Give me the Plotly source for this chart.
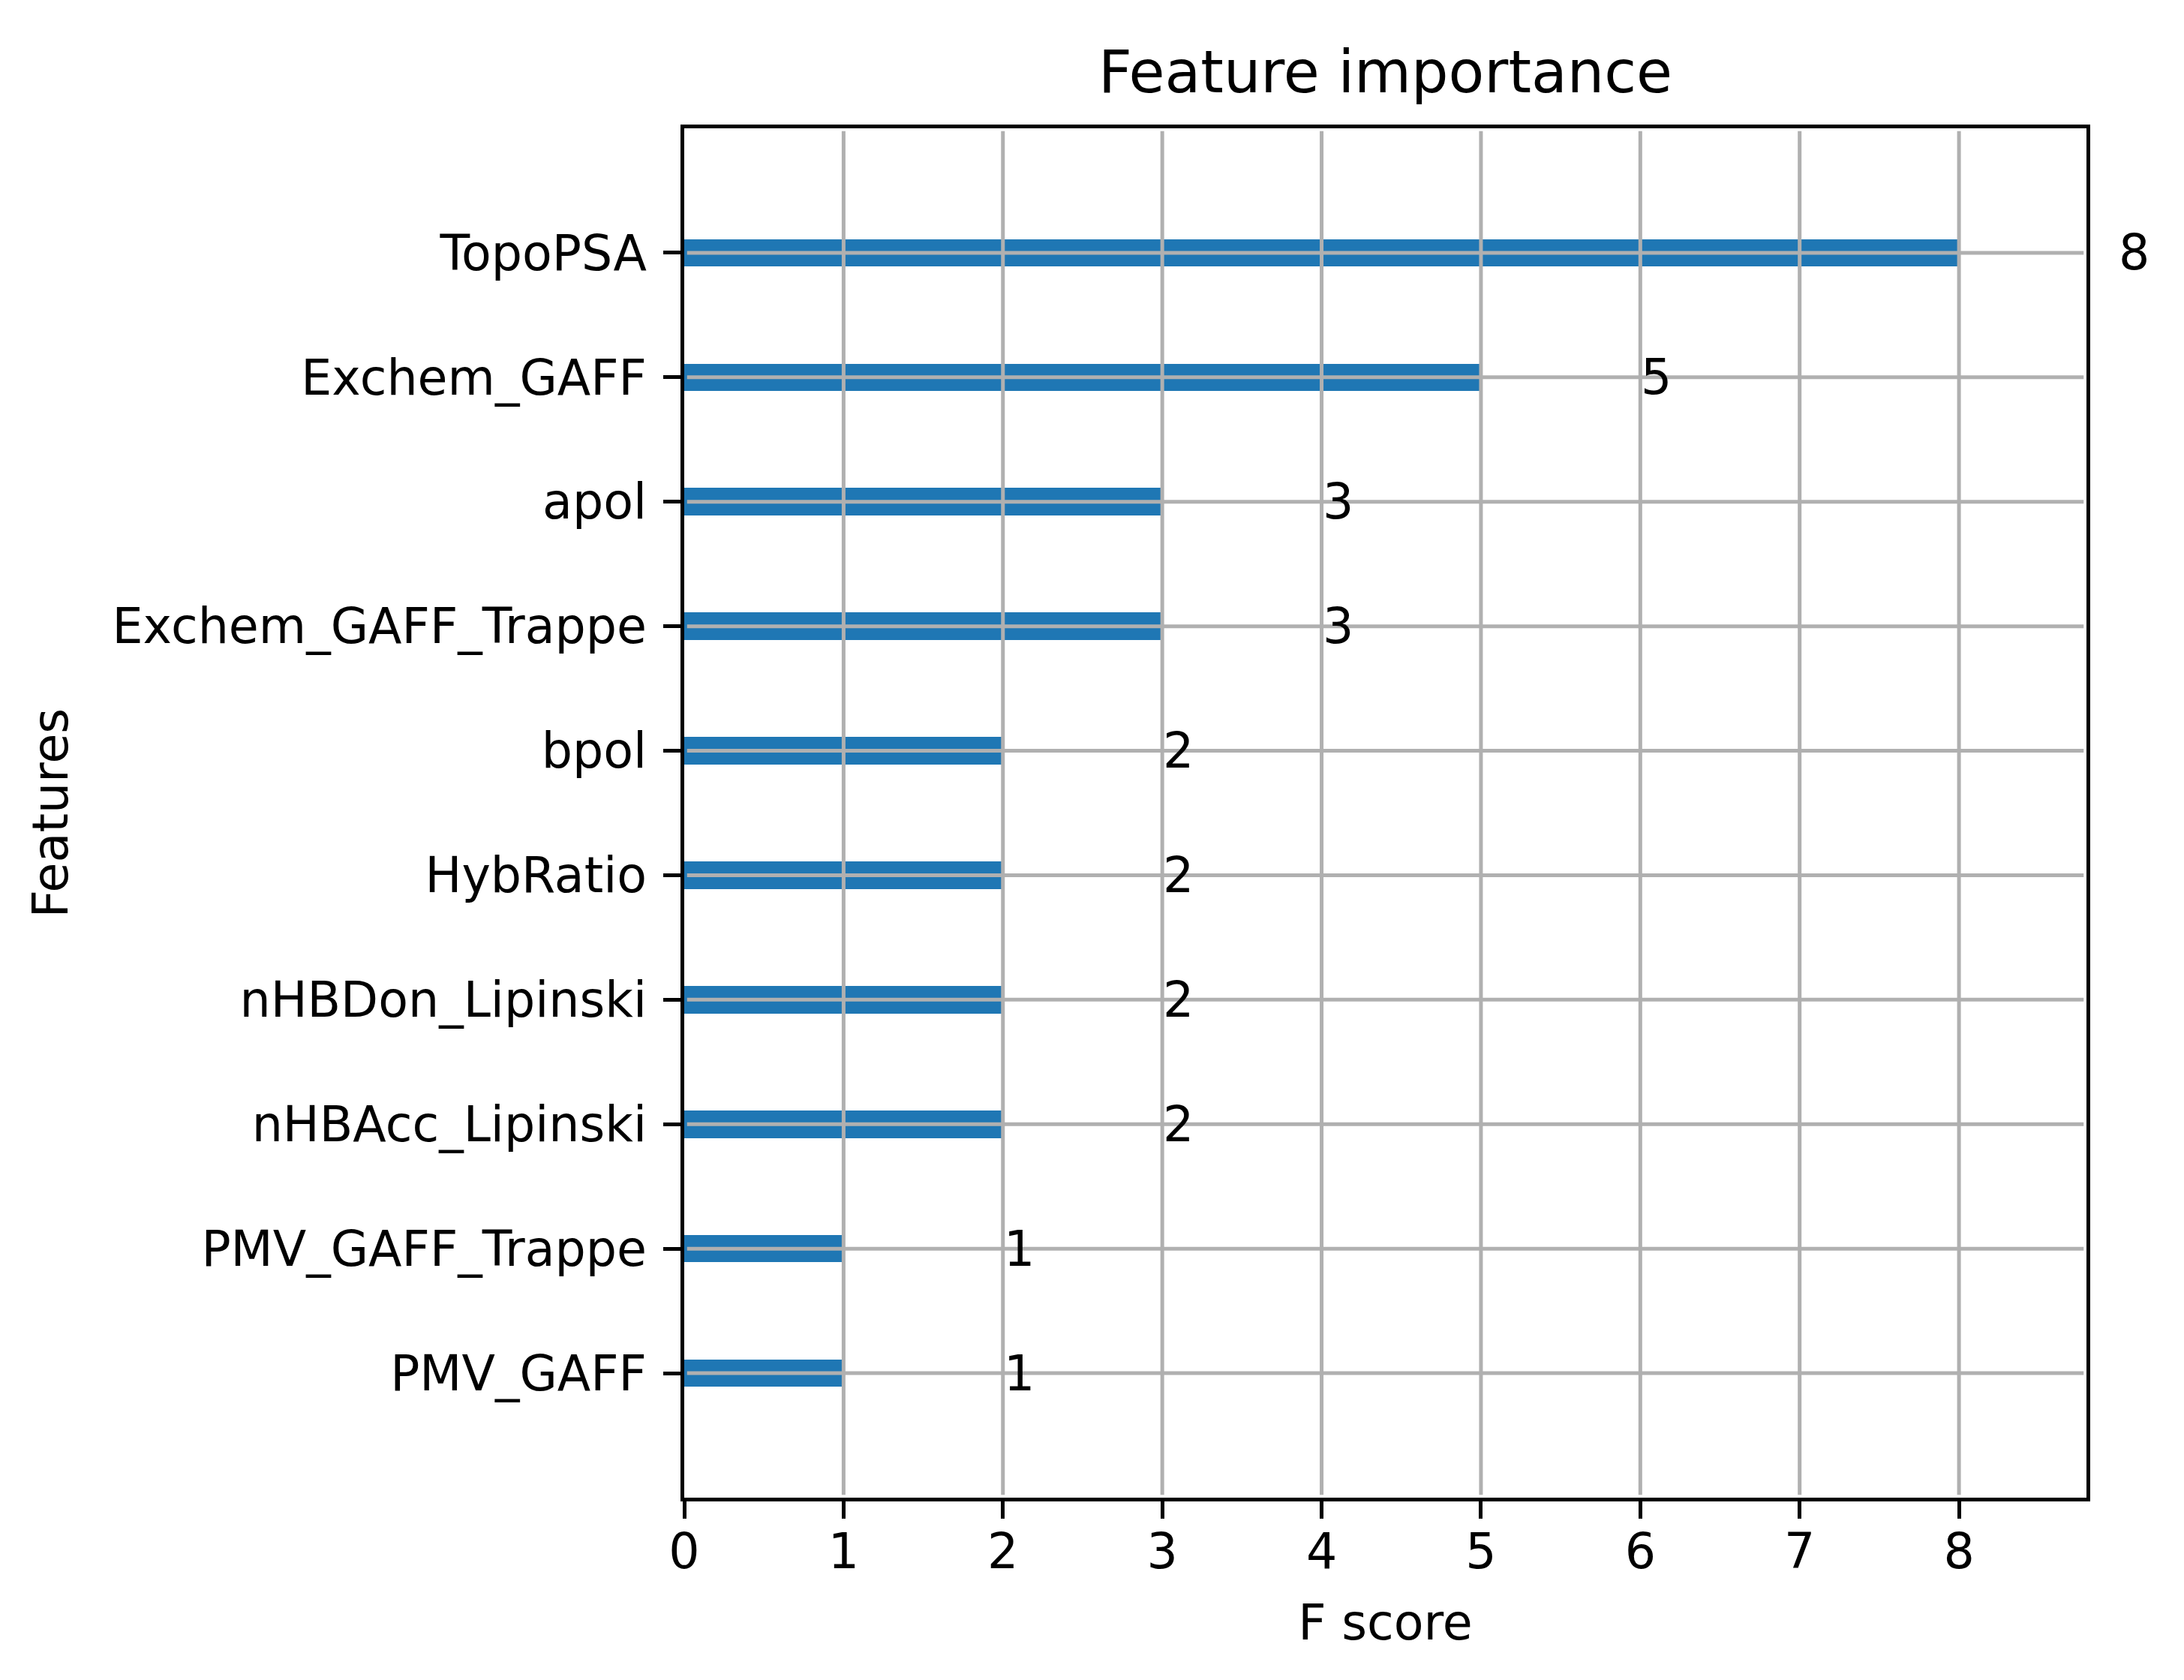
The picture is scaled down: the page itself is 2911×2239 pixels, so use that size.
import plotly.graph_objects as go

# bottom to top, as xgboost plot_importance draws them
features = [
    "PMV_GAFF",
    "PMV_GAFF_Trappe",
    "nHBAcc_Lipinski",
    "nHBDon_Lipinski",
    "HybRatio",
    "bpol",
    "Exchem_GAFF_Trappe",
    "apol",
    "Exchem_GAFF",
    "TopoPSA",
]
f_scores = [1, 1, 2, 2, 2, 2, 3, 3, 5, 8]
x_ticks = [0, 1, 2, 3, 4, 5, 6, 7, 8]

FONT = "DejaVu Sans"
BAR_COLOR = "#1f77b4"
GRID_COLOR = "#b0b0b0"
positions = list(range(len(features)))
x_max = max(f_scores) * 1.1

fig = go.Figure(
    go.Bar(
        x=f_scores,
        y=positions,
        orientation="h",
        width=0.22,
        marker=dict(color=BAR_COLOR, line=dict(width=0)),
        showlegend=False,
        hoverinfo="skip",
    )
)

# value labels at score + 1 (like plot_importance); domain coords so the
# label for the top bar can sit past the right edge of the axes
for pos, val in zip(positions, f_scores):
    fig.add_annotation(
        x=(val + 1) / x_max,
        xref="x domain",
        y=pos,
        yref="y",
        text=str(val),
        xanchor="left",
        yanchor="middle",
        showarrow=False,
        borderpad=0,
        font=dict(family=FONT, size=65, color="black"),
    )

# matplotlib draws the grid over the bars, so use shapes above the traces
for t in x_ticks[1:]:
    fig.add_shape(
        type="line", xref="x", yref="y domain",
        x0=t, x1=t, y0=0.002, y1=0.998,
        line=dict(color=GRID_COLOR, width=5), layer="above",
    )
for pos in positions:
    fig.add_shape(
        type="line", xref="x domain", yref="y",
        x0=0.002, x1=0.998, y0=pos, y1=pos,
        line=dict(color=GRID_COLOR, width=5), layer="above",
    )

axis_common = dict(
    showline=True,
    mirror=True,
    linecolor="black",
    linewidth=5,
    ticks="outside",
    ticklen=23,
    tickwidth=5,
    tickcolor="black",
    showgrid=False,
    zeroline=False,
    tickfont=dict(family=FONT, size=65, color="black"),
)

fig.update_xaxes(
    range=[0, x_max],
    tickvals=x_ticks,
    ticklabelstandoff=-12,
    title=dict(text="F score", font=dict(family=FONT, size=65, color="black"), standoff=37),
    **axis_common,
)
fig.update_yaxes(
    range=[-1, len(features)],
    tickvals=positions,
    ticktext=features,
    ticklabelstandoff=9,
    title=dict(text="Features", font=dict(family=FONT, size=65, color="black"), standoff=39),
    **axis_common,
)

fig.update_layout(
    width=2911,
    height=2239,
    margin=dict(l=904, r=138, t=163, b=251, autoexpand=False),
    paper_bgcolor="white",
    plot_bgcolor="white",
    title=dict(
        text="Feature importance",
        font=dict(family=FONT, size=78, color="black"),
        x=(904 + 2773) / 2 / 2911,
        xanchor="center",
        y=0.961,
        yanchor="middle",
        yref="container",
    ),
    bargap=0,
)

fig.write_html("out.html")
